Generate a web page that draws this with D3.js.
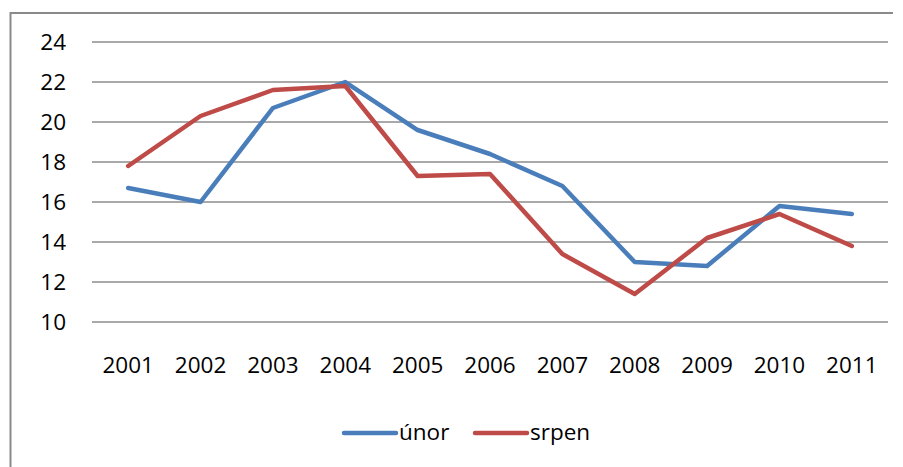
<!DOCTYPE html>
<html><head><meta charset="utf-8">
<script src="https://cdn.jsdelivr.net/npm/d3@7"></script>
<style>body{margin:0;background:#fff}svg{display:block}</style>
</head><body>
<script>
const years = ["2001","2002","2003","2004","2005","2006","2007","2008","2009","2010","2011"];
const unor  = [16.7,16.0,20.7,22.0,19.6,18.4,16.8,13.0,12.8,15.8,15.4];
const srpen = [17.8,20.3,21.6,21.8,17.3,17.4,13.4,11.4,14.2,15.4,13.8];
const yTicks = [10,12,14,16,18,20,22,24];
const seriesNames = ["únor","srpen"];
const colors = ["#4A7EBB","#BE4B48"];

const W = 903, H = 467;
const svg = d3.select("body").append("svg").attr("width", W).attr("height", H);
const font = "'Open Sans', sans-serif";

// chart border (top and left visible)
svg.append("path").attr("d", "M10.5,467 V13 H893")
  .attr("fill","none").attr("stroke","#8a8a8a").attr("stroke-width",2);

const x = d3.scaleBand().domain(years).range([92, 888]);
const y = d3.scaleLinear().domain([10, 24]).range([322, 42]);

// gridlines
svg.append("g").selectAll("line").data(yTicks).join("line")
  .attr("x1", 92).attr("x2", 888)
  .attr("y1", d => y(d)).attr("y2", d => y(d))
  .attr("stroke", "#8c8c8c").attr("stroke-width", 1.6);

// y axis labels
const yAxis = d3.axisLeft(y).tickValues(yTicks).tickSize(0).tickPadding(0);
const gy = svg.append("g").attr("transform","translate(66,0)").call(yAxis);
gy.select(".domain").remove();
gy.selectAll("text").attr("font-family", font).attr("font-size", 22.5).attr("fill","#000").attr("dy","0.35em");

// x axis labels
const xAxis = d3.axisBottom(x).tickSize(0).tickPadding(0);
const gx = svg.append("g").attr("transform","translate(0,357)").call(xAxis);
gx.select(".domain").remove();
gx.selectAll("text").attr("font-family", font).attr("font-size", 22.5).attr("fill","#000").attr("dy","0.71em");

// lines
const line = d3.line().x((d,i) => x(years[i]) + x.bandwidth()/2).y(d => y(d));
[unor, srpen].forEach((s, k) => {
  svg.append("path").datum(s).attr("d", line)
    .attr("fill","none").attr("stroke", colors[k]).attr("stroke-width", 4.5)
    .attr("stroke-linejoin","round").attr("stroke-linecap","round");
});

// legend
const legX = [343, 474];
seriesNames.forEach((n, k) => {
  const g = svg.append("g").attr("transform", `translate(${legX[k]},433)`);
  g.append("line").attr("x1", 1).attr("x2", 53).attr("y1", 0).attr("y2", 0)
    .attr("stroke", colors[k]).attr("stroke-width", 4.5).attr("stroke-linecap","round");
  g.append("text").attr("x", 56).attr("y", 0).attr("dy","0.32em")
    .attr("font-family", font).attr("font-size", 22.5).attr("fill","#000").text(n);
});
</script>
</body></html>
